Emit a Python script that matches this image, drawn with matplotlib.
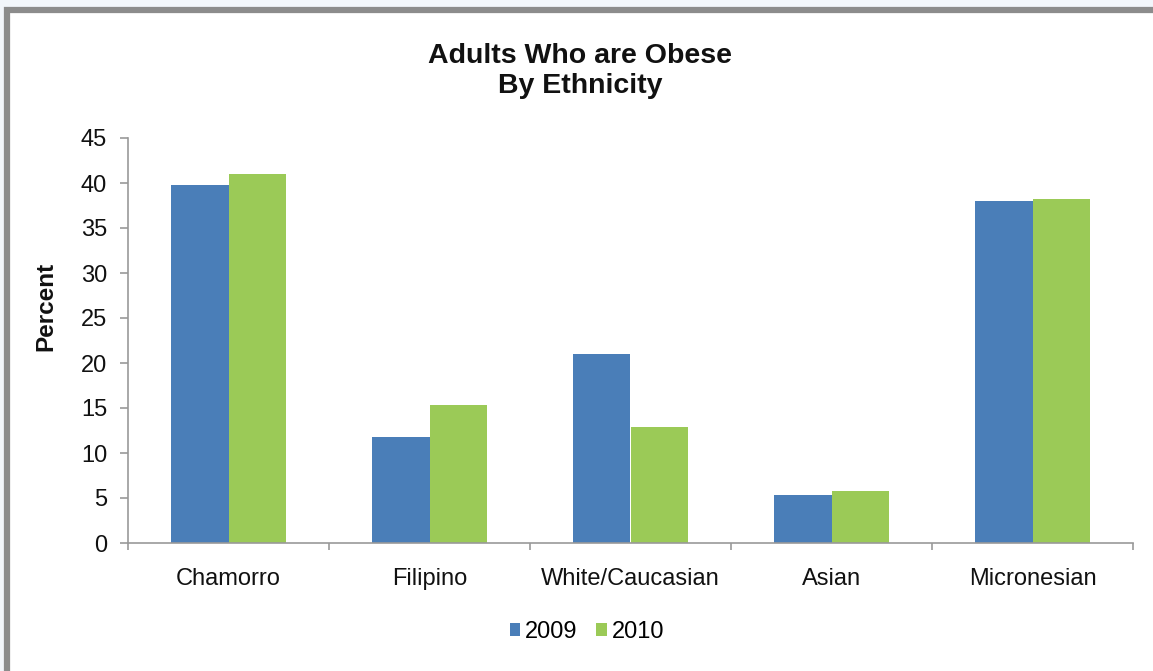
import matplotlib
matplotlib.use('Agg')
import matplotlib.pyplot as plt
import numpy as np
from matplotlib.patches import Rectangle

# Datos
categorias = ['Chamorro', 'Filipino', 'White/Caucasian', 'Asian', 'Micronesian']
anios = ['2009', '2010']
valores_2009 = [39.8, 11.8, 21.0, 5.3, 38.0]
valores_2010 = [41.0, 15.3, 12.9, 5.8, 38.2]
yticks = [0, 5, 10, 15, 20, 25, 30, 35, 40, 45]

azul = '#4a7eb8'
verde = '#9bca57'
gris = '#8c8c8c'

plt.rcParams['font.family'] = ['Liberation Sans', 'DejaVu Sans']

fig = plt.figure(figsize=(11.53, 6.71), dpi=100)
fig.patch.set_facecolor('#f2f6fb')

# marco gris y fondo blanco (sin borde inferior ni derecho visibles)
marco = Rectangle((6.5 / 1153, -0.2), 1.2, 1.2 - 9.5 / 671, transform=fig.transFigure,
                  facecolor='white', edgecolor=gris, linewidth=4.5, zorder=-10)
fig.patches.append(marco)

ax = fig.add_axes([128 / 1153, 1 - 543 / 671, 1005 / 1153, 405 / 671])
ax.set_facecolor('none')

x = np.arange(len(categorias))
ancho = 0.285
ax.bar(x - ancho / 2, valores_2009, ancho, color=azul, label=anios[0])
ax.bar(x + ancho / 2, valores_2010, ancho, color=verde, label=anios[1])

ax.set_xlim(-0.5, len(categorias) - 0.5)
ax.set_ylim(0, 45)
ax.set_yticks(yticks)
ax.set_xticks(x)
ax.set_xticklabels(categorias)
ax.set_xticks(np.arange(len(categorias) + 1) - 0.5, minor=True)

for s in ['top', 'right']:
    ax.spines[s].set_visible(False)
for s in ['left', 'bottom']:
    ax.spines[s].set_color('#999999')
    ax.spines[s].set_linewidth(1.2)

ax.tick_params(axis='y', length=6, width=1.2, color='#999999', labelsize=17, pad=9, labelcolor='#111111')
ax.tick_params(axis='x', which='major', length=0, labelsize=17, pad=18, labelcolor='#111111')
ax.tick_params(axis='x', which='minor', length=5, width=1.2, color='#999999')

ax.set_ylabel('Percent', fontsize=17.5, fontweight='bold', color='#111111')
ax.yaxis.set_label_coords(-0.0706, 0.585)

fig.text(0.503, 1 - 71 / 671, 'Adults Who are Obese\nBy Ethnicity', ha='center', va='center',
         fontsize=20.5, fontweight='bold', linespacing=1.2, color='#111111')

fig.legend(loc='center', bbox_to_anchor=(0.509, 1 - 632 / 671), ncol=2, frameon=False,
           fontsize=17, handlelength=0.45, handleheight=0.45, handletextpad=0.2,
           columnspacing=0.8)

fig.savefig('out.png', dpi=100, facecolor=fig.get_facecolor())
